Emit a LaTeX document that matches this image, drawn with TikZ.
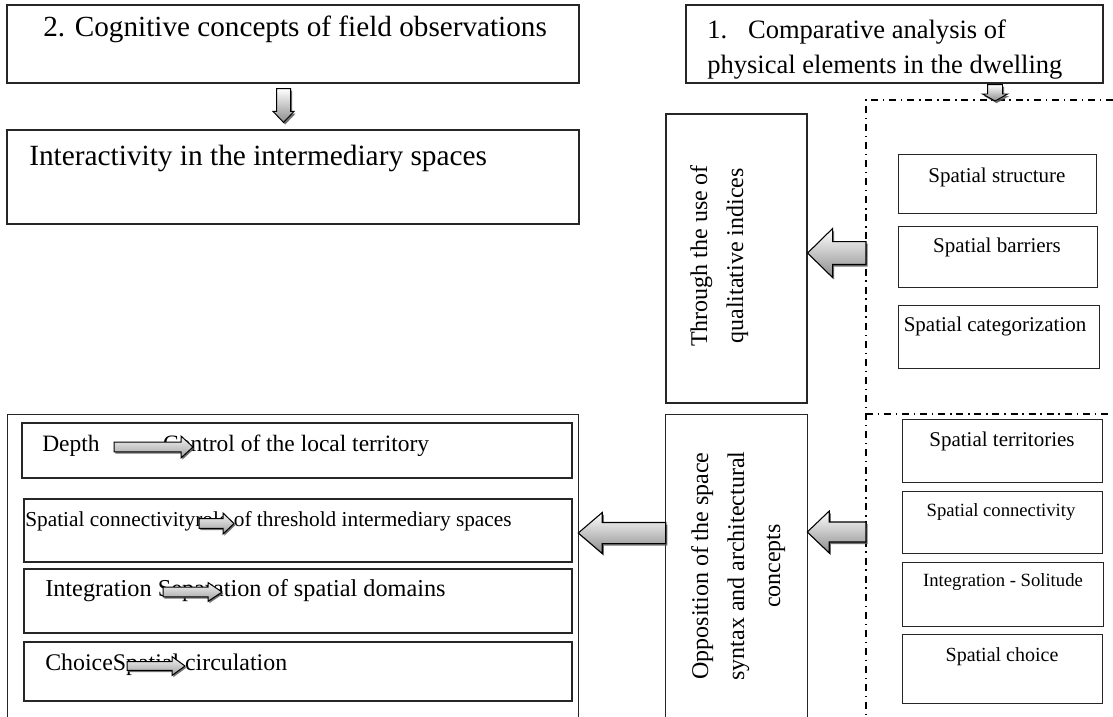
\documentclass[tikz,border=0pt]{standalone}
\usepackage{fontspec}
\setmainfont{Liberation Serif}
\usetikzlibrary{calc,fit,shadows}

% Block arrow: #1 name, #2 style, #3 tail, #4 tip, #5 half body, #6 half head, #7 head length
\newcommand\blockarrow[7]{%
  \coordinate (#1-h) at ($(#4)!#7!(#3)$);
  \path[#2] (#4)
    -- ($(#1-h)!#6!90:(#3)$) -- ($(#1-h)!#5!90:(#3)$)
    -- ($(#3)!#5!-90:(#4)$) -- ($(#3)!#5!90:(#4)$)
    -- ($(#1-h)!#5!-90:(#3)$) -- ($(#1-h)!#6!-90:(#3)$) -- cycle;
}
\newcommand\fsz[2]{\fontsize{#1}{#2}\selectfont}

\begin{document}
\begin{tikzpicture}[x=0.75pt,y=-0.75pt,
  frame/.style={draw=black!85, line width=0.9pt, inner sep=0pt, fit={#1}},
  thinframe/.style={draw=black!85, line width=0.75pt, inner sep=0pt, fit={#1}},
  openframe/.style={draw=none, inner sep=0pt, fit={#1}},
  txt/.style={inner sep=0pt, text height=0.69em, text depth=0.22em},
  rottxt/.style={rotate=90, align=center, inner sep=0pt, font=\fsz{18}{27}},
  dashdot/.style={draw=black, line width=0.9pt, dash pattern=on 5.25pt off 3.6pt on 1.1pt off 3.6pt},
  bigarrow/.style={draw=black, line width=0.8pt, top color=white, bottom color=black!45,
    drop shadow={shadow xshift=1.2pt, shadow yshift=-1.6pt, fill=black!65, opacity=0.85}},
  smallarrow/.style={draw=black, line width=0.75pt, top color=black!4, bottom color=black!38,
    drop shadow={shadow xshift=1pt, shadow yshift=-1.3pt, fill=black!65, opacity=0.85}}
]
\useasboundingbox (0,0) rectangle (1113,717);
\fill[white] (0,0) rectangle (1113,717);

% ---- top left: field observations
\node[frame={(7,5) (579,83)}] (cog) {};
\node[txt, anchor=west, font=\fsz{21.9}{26}] (cog-t) at (43,33) {2. Cognitive concepts of field observations};
\node[frame={(7,130) (579,224)}] (inter) {};
\node[txt, anchor=west, font=\fsz{22}{26}] (inter-t) at (29,162) {Interactivity in the intermediary spaces};
\blockarrow{arA}{bigarrow, line width=0.7pt}{[xshift=-7.1pt,yshift=-3.75pt]cog.south}{[xshift=-7.1pt,yshift=5.25pt]inter.north}{5.25pt}{7.9pt}{8.25pt}

% ---- top right: physical elements
\node[frame={(686,5) (1103,83)}] (comp) {};
\node[anchor=west, align=left, inner sep=0pt, font=\fsz{19.9}{26.25}] (comp-t) at (707,50)
  {1.\hspace{15.7pt}Comparative analysis of\\physical elements in the dwelling};

% ---- dash-dot region
\coordinate (dd-tl) at (866,100);
\coordinate (dd-tr) at (1113,100);
\coordinate (dd-ml) at (866,414);
\coordinate (dd-mr) at (1113,414);
\coordinate (dd-bl) at (866,717);
\draw[dashdot] (dd-tr) -- (dd-tl) -- (dd-bl);
\draw[dashdot] (dd-ml) -- (dd-mr);
\coordinate (dd-in) at (995,101);
\blockarrow{arB}{bigarrow, line width=0.7pt}{[xshift=75.4pt,yshift=-0.75pt]comp.south}{dd-in}{5.6pt}{9.4pt}{5.25pt}

% ---- physical elements (upper group)
\node[thinframe={(898,154) (1096,213)}] (s1) {};
\node[txt, font=\fsz{15.75}{19}] (s1-t) at (997,179) {Spatial structure};
\node[thinframe={(898,226) (1097,287)}] (s2) {};
\node[txt, font=\fsz{15.75}{19}] (s2-t) at (997,249) {Spatial barriers};
\node[thinframe={(898,305) (1099,368)}] (s3) {};
\node[txt, font=\fsz{15.75}{19}] (s3-t) at (995,328) {Spatial categorization};

% ---- space syntax elements (lower group)
\node[thinframe={(902,419) (1102,482)}] (t1) {};
\node[txt, font=\fsz{15.75}{19}] (t1-t) at (1002,443) {Spatial territories};
\node[thinframe={(902,491) (1102,553)}] (t2) {};
\node[txt, font=\fsz{14}{17}] (t2-t) at (1001,513) {Spatial connectivity};
\node[thinframe={(902,562) (1103,626)}] (t3) {};
\node[txt, font=\fsz{14}{17}] (t3-t) at (1003,583) {Integration - Solitude};
\node[thinframe={(902,634) (1102,703)}] (t4) {};
\node[txt, font=\fsz{15}{18}] (t4-t) at (1002,658) {Spatial choice};

% ---- middle column
\node[frame={(666,114) (807,403)}] (thr) {};
\node[rottxt, anchor=north] (thr-t) at (690,256) {Through the use of\\qualitative indices};
\node[openframe={(666,415) (807,717)}] (opp) {};
\draw[draw=black!85, line width=0.9pt] (opp.south west) |- (opp.north east) -- (opp.south east);
\node[rottxt, anchor=north] (opp-t) at (691,566) {Opposition of the space\\syntax and architectural\\concepts};

\coordinate (dd-a1) at (866,253);
\coordinate (dd-a2) at (866,532);
\blockarrow{ar1}{bigarrow}{dd-a1}{[yshift=4.1pt]thr.east}{8.6pt}{18.4pt}{18.75pt}
\blockarrow{ar2}{bigarrow}{dd-a2}{[yshift=25.5pt]opp.east}{7.5pt}{15.75pt}{16.5pt}

% ---- bottom left: interpretation
\node[openframe={(8,415) (578,717)}] (out) {};
\draw[draw=black!85, line width=0.9pt] (out.south west) |- (out.north east) -- (out.south east);
\blockarrow{ar3}{bigarrow}{[yshift=24.75pt]opp.west}{[yshift=24.75pt]out.east}{7.9pt}{15.4pt}{18pt}

\node[frame={(22,423) (572,478)}] (b1) {};
\node[txt, anchor=west, font=\fsz{17.6}{21}] (b1-t) at (42,448) {Depth\hspace{47.7pt}Control of the local territory};
\node[frame={(24,499) (572,562)}] (b2) {};
\node[txt, anchor=west, font=\fsz{16}{19}] (b2-t) at (25,523) {Spatial connectivityrole of threshold intermediary spaces};
\node[frame={(24,569) (572,633)}] (b3) {};
\node[txt, anchor=west, font=\fsz{18.2}{22}] (b3-t) at (45,593) {Integration Separation of spatial domains};
\node[frame={(24,642) (572,701)}] (b4) {};
\node[txt, anchor=west, font=\fsz{17.9}{21}] (b4-t) at (45,667) {ChoiceSpatial circulation};

% inline arrows laid over the words
\coordinate (i1a) at (114,447); \coordinate (i1b) at (193,447);
\coordinate (i2a) at (199,523.5); \coordinate (i2b) at (234,523.5);
\coordinate (i3a) at (163,592); \coordinate (i3b) at (222,592);
\coordinate (i4a) at (127,666); \coordinate (i4b) at (185,666);
\blockarrow{in1}{smallarrow}{i1a}{i1b}{3.6pt}{8.25pt}{9pt}
\blockarrow{in2}{smallarrow}{i2a}{i2b}{3.6pt}{7.9pt}{8.25pt}
\blockarrow{in3}{smallarrow}{i3a}{i3b}{3.6pt}{7.1pt}{10.5pt}
\blockarrow{in4}{smallarrow}{i4a}{i4b}{3.2pt}{7.1pt}{9.75pt}
\end{tikzpicture}
\end{document}
